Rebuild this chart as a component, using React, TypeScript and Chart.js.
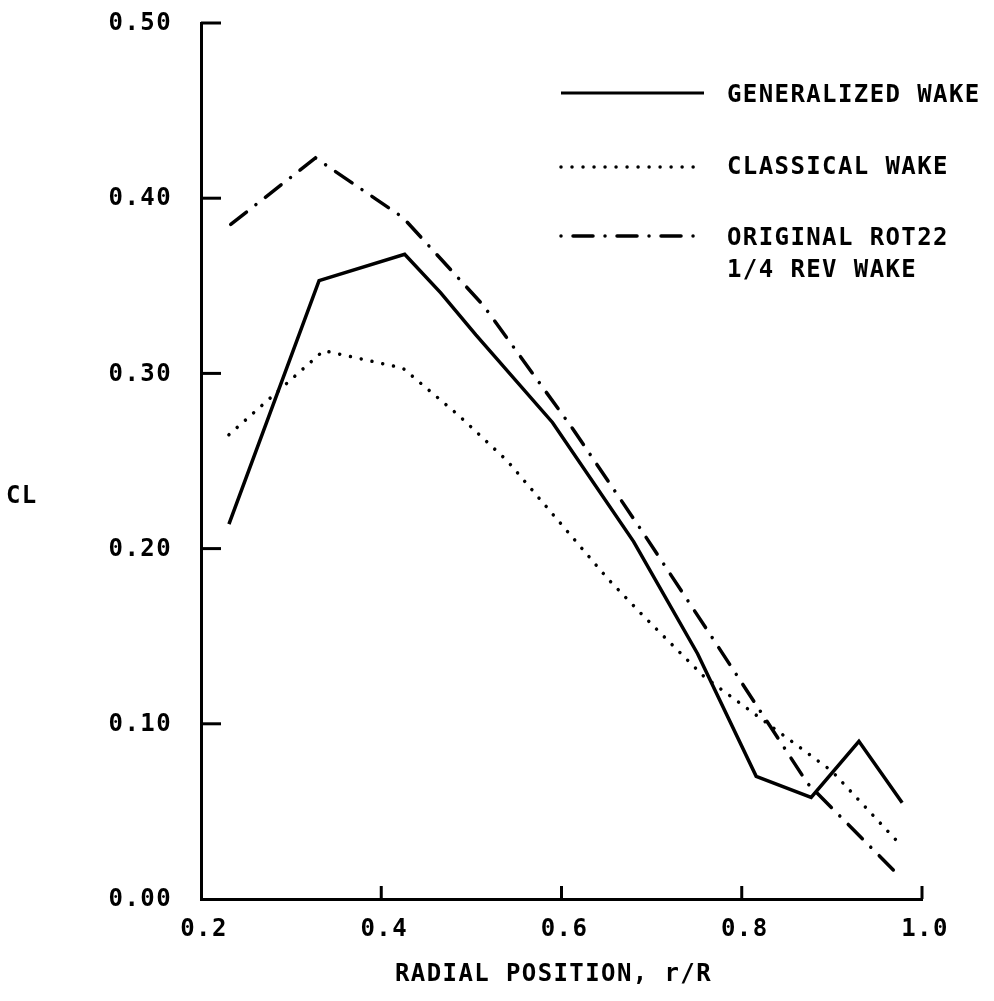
import React, { useEffect, useRef } from "react";
import { Chart, registerables } from "chart.js";

Chart.register(...registerables);

// ---- data ----
const genX = [0.231, 0.331, 0.426, 0.466, 0.505, 0.59, 0.68, 0.751, 0.816, 0.877, 0.93, 0.978];
const genY = [0.214, 0.353, 0.368, 0.346, 0.322, 0.272, 0.204, 0.14, 0.07, 0.058, 0.09, 0.055];

const clX = [0.231, 0.336, 0.424, 0.486, 0.54, 0.651, 0.69, 0.758, 0.9, 0.976];
const clY = [0.265, 0.313, 0.303, 0.276, 0.25, 0.183, 0.162, 0.127, 0.073, 0.031];

const rotX = [0.233, 0.327, 0.424, 0.513, 0.613, 0.688, 0.77, 0.873, 0.977];
const rotY = [0.385, 0.423, 0.389, 0.339, 0.268, 0.211, 0.147, 0.066, 0.012];

const xTickValues = [0.2, 0.4, 0.6, 0.8, 1.0];
const xTickLabels = ["0.2", "0.4", "0.6", "0.8", "1.0"];
const yTickValues = [0, 0.1, 0.2, 0.3, 0.4, 0.5];
const yTickLabels = ["0.00", "0.10", "0.20", "0.30", "0.40", "0.50"];

const seriesNames = ["GENERALIZED WAKE", "CLASSICAL WAKE", "ORIGINAL ROT22"];
const legendSecondLine = "1/4 REV WAKE";
const xTitle = "RADIAL POSITION, r/R";
const yTitle = "CL";

const FONT = 'bold 24px "DejaVu Sans Mono", "Liberation Mono", monospace';
const SPACING = "1.4px";
const DOT_DASH = [0.01, 11];
const DASH_DOT = [20, 12, 0.01, 12];
const LEGEND_DASH_DOT = [0.01, 12, 20, 12];

const toPts = (xs: number[], ys: number[]) => xs.map((x, i) => ({ x, y: ys[i] }));

const decorPlugin = {
  id: "decor",
  afterDraw(chart: any) {
    const ctx = chart.ctx as CanvasRenderingContext2D;
    const xs = chart.scales.x;
    const ys = chart.scales.y;
    const area = chart.chartArea;
    ctx.save();
    ctx.strokeStyle = "#000";
    ctx.fillStyle = "#000";
    ctx.lineWidth = 3;
    ctx.lineCap = "butt";
    // inward ticks
    yTickValues.forEach((v) => {
      if (v === 0) return;
      const py = ys.getPixelForValue(v);
      ctx.beginPath();
      ctx.moveTo(area.left, py);
      ctx.lineTo(area.left + 20, py);
      ctx.stroke();
    });
    xTickValues.forEach((v) => {
      if (v === 0.2) return;
      const px = xs.getPixelForValue(v);
      ctx.beginPath();
      ctx.moveTo(px, area.bottom);
      ctx.lineTo(px, area.bottom - 13);
      ctx.stroke();
    });
    // labels
    ctx.font = FONT;
    (ctx as any).letterSpacing = SPACING;
    ctx.textBaseline = "middle";
    ctx.textAlign = "right";
    yTickValues.forEach((v, i) => {
      ctx.fillText(yTickLabels[i], 172, ys.getPixelForValue(v) + 1);
    });
    ctx.textAlign = "center";
    xTickValues.forEach((v, i) => {
      ctx.fillText(xTickLabels[i], xs.getPixelForValue(v) + 3, 930);
    });
    ctx.fillText(xTitle, (area.left + area.right) / 2 - 8, 975);
    ctx.textAlign = "left";
    ctx.fillText(yTitle, 6, 497);
    // legend
    const lx0 = 561;
    const lx1 = 704;
    const rows = [93, 167, 236];
    const dashes = [[], DOT_DASH, LEGEND_DASH_DOT];
    rows.forEach((ry, i) => {
      ctx.save();
      ctx.lineWidth = i === 0 ? 3 : 3.5;
      ctx.lineCap = i === 0 ? "butt" : "round";
      ctx.setLineDash(dashes[i]);
      ctx.beginPath();
      ctx.moveTo(lx0, ry);
      ctx.lineTo(lx1, ry);
      ctx.stroke();
      ctx.restore();
    });
    ctx.fillText(seriesNames[0], 727, 96);
    ctx.fillText(seriesNames[1], 727, 168);
    ctx.fillText(seriesNames[2], 727, 239);
    ctx.fillText(legendSecondLine, 727, 271);
    ctx.restore();
  },
};

export default function App() {
  const ref = useRef<HTMLCanvasElement | null>(null);
  useEffect(() => {
    if (!ref.current) return;
    const chart = new Chart(ref.current, {
      type: "line",
      data: {
        datasets: [
          {
            label: seriesNames[0],
            data: toPts(genX, genY),
            borderColor: "#000",
            borderWidth: 3.5,
            pointRadius: 0,
            tension: 0,
            borderJoinStyle: "miter",
          },
          {
            label: seriesNames[1],
            data: toPts(clX, clY),
            borderColor: "#000",
            borderWidth: 3.5,
            borderDash: DOT_DASH,
            borderCapStyle: "round",
            pointRadius: 0,
            tension: 0,
          },
          {
            label: seriesNames[2],
            data: toPts(rotX, rotY),
            borderColor: "#000",
            borderWidth: 3.5,
            borderDash: DASH_DOT,
            borderCapStyle: "round",
            pointRadius: 0,
            tension: 0,
          },
        ],
      },
      options: {
        animation: false,
        responsive: true,
        maintainAspectRatio: false,
        devicePixelRatio: 1,
        layout: { padding: { top: 23, right: 72, left: 0, bottom: 0 } },
        plugins: { legend: { display: false }, tooltip: { enabled: false } },
        scales: {
          x: {
            type: "linear",
            min: 0.2,
            max: 1.0,
            grid: { display: false },
            ticks: { display: false },
            border: { display: true, color: "#000", width: 3 },
            afterFit: (s: any) => {
              s.height = 102;
            },
          },
          y: {
            type: "linear",
            min: 0,
            max: 0.5,
            grid: { display: false },
            ticks: { display: false },
            border: { display: true, color: "#000", width: 3 },
            afterFit: (s: any) => {
              s.width = 201;
            },
          },
        },
      } as any,
      plugins: [decorPlugin],
    });
    return () => chart.destroy();
  }, []);
  return (
    <div style={{ position: "absolute", left: 0, top: 0, width: 994, height: 1001, background: "#fff" }}>
      <canvas ref={ref} />
    </div>
  );
}
